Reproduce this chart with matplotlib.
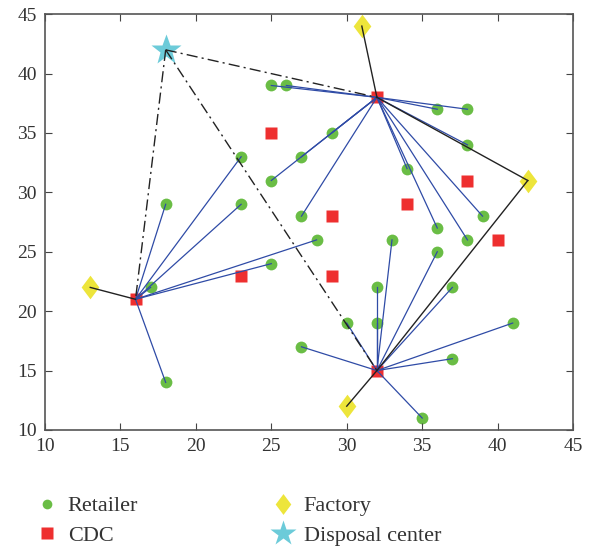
import matplotlib.pyplot as plt
from matplotlib.lines import Line2D

plt.rcParams['font.family'] = ['Liberation Serif', 'DejaVu Serif']

# retailers
ret_x = [25, 26, 36, 38, 29, 27, 25, 34, 38, 27, 39, 36, 38,
         27, 30, 32, 32, 33, 36, 37, 41, 37, 35,
         17, 18, 23, 23, 28, 25, 18]
ret_y = [39, 39, 37, 37, 35, 33, 31, 32, 34, 28, 28, 27, 26,
         17, 19, 19, 22, 26, 25, 22, 19, 16, 11,
         22, 29, 33, 29, 26, 24, 14]
# index of CDC that serves each retailer
ret_cdc = [0] * 13 + [2] * 10 + [1] * 7

# candidate CDCs, first three are opened
cdc_x = [32, 16, 32, 25, 38, 34, 29, 40, 23, 29]
cdc_y = [38, 21, 15, 35, 31, 29, 28, 26, 23, 23]

fac_x = [31, 42, 13, 30]
fac_y = [44, 31, 22, 12]
# factory -> CDC links
fac_links = [(0, 0), (1, 0), (1, 2), (2, 1), (3, 2)]

disp_x = [18]
disp_y = [42]
disp_links = [0, 1, 2]

green = '#6abd45'
red = '#ee2f2f'
yellow = '#ede53b'
cyan = '#6ccbd9'
blue = '#2f4ba6'

diamond = [(0, 1), (0.75, 0), (0, -1), (-0.75, 0), (0, 1)]

fig = plt.figure(figsize=(5.92, 5.47), dpi=100)
ax = fig.add_axes([0.076, 0.214, 0.892, 0.760])

ax.plot(ret_x, ret_y, 'o', color=green, ms=8.5, mec='none', zorder=1)
ax.plot(cdc_x, cdc_y, 's', color=red, ms=9, mec='none', zorder=1)
ax.plot(fac_x, fac_y, ls='none', marker=diamond, color=yellow, ms=17, mec='none', zorder=1)
ax.plot(disp_x, disp_y, '*', color=cyan, ms=23, mec='none', zorder=1)

for x, y, c in zip(ret_x, ret_y, ret_cdc):
    ax.plot([x, cdc_x[c]], [y, cdc_y[c]], '-', color=blue, lw=0.9, zorder=2)
for f, c in fac_links:
    ax.plot([fac_x[f], cdc_x[c]], [fac_y[f], cdc_y[c]], '-', color='#222222', lw=1.0, zorder=2)
for c in disp_links:
    ax.plot([disp_x[0], cdc_x[c]], [disp_y[0], cdc_y[c]], color='#222222', lw=1.0,
            ls=(0, (8, 3, 1.5, 3)), zorder=2)

ax.set_xlim(10, 45)
ax.set_ylim(10, 45)
ax.set_xticks(range(10, 46, 5))
ax.set_yticks(range(10, 46, 5))
ax.tick_params(direction='in', top=True, right=True, length=5, labelsize=14,
               color='#444444', labelcolor='#333333', pad=6)
for s in ax.spines.values():
    s.set_color('#555555')
    s.set_linewidth(1.2)

handles = [
    Line2D([], [], ls='none', marker='o', color=green, mec='none', ms=7),
    Line2D([], [], ls='none', marker='s', color=red, mec='none', ms=8),
    Line2D([], [], ls='none', marker=diamond, color=yellow, mec='none', ms=15),
    Line2D([], [], ls='none', marker='*', color=cyan, mec='none', ms=19),
]
labels = ['Retailer', 'CDC', 'Factory', 'Disposal center']
fig.legend(handles, labels, ncol=2, loc='upper left', bbox_to_anchor=(0.045, 0.114),
           frameon=False, fontsize=16, handlelength=0.8, handletextpad=0.55,
           borderpad=0, columnspacing=6.1, labelspacing=0.42, labelcolor='#333333')

fig.savefig('out.png', dpi=100)
